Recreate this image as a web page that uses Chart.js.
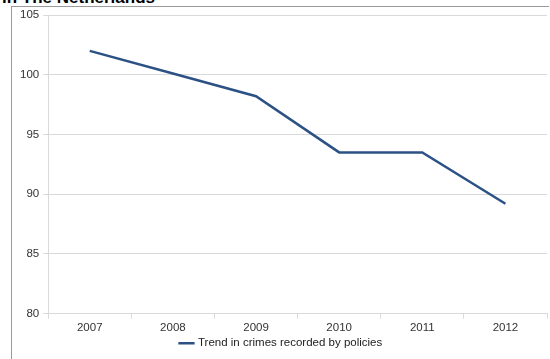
<!DOCTYPE html>
<html>
<head>
<meta charset="utf-8">
<script src="https://cdn.jsdelivr.net/npm/chart.js@4/dist/chart.umd.min.js"></script>
<style>
  body { margin: 0; background: #fff; }
  #wrap { position: relative; width: 550px; height: 359px; overflow: hidden; }
  #title { position: absolute; left: 2px; top: -12px; font: bold 17px "Liberation Sans", Arial, sans-serif; color: #000; white-space: nowrap; }
  #frame { position: absolute; left: 11px; top: 6px; width: 537px; height: 353px; border-left: 1px solid #9a9a9a; border-top: 1px solid #9a9a9a; }
  #frame canvas { position: absolute; left: 0; top: -3px; }
</style>
</head>
<body>
<div id="wrap">
  <div id="title">in The Netherlands</div>
  <div id="frame"><canvas id="chart" width="538" height="357"></canvas></div>
</div>
<script>
'use strict';

var years = ['2007', '2008', '2009', '2010', '2011', '2012'];
var crimes = [102.0, 100.1, 98.2, 93.5, 93.5, 89.2];
var seriesName = 'Trend in crimes recorded by policies';

Chart.defaults.font.family = '"Liberation Sans", Arial, sans-serif';
Chart.defaults.font.size = 11.5;
Chart.defaults.color = '#333';

drawLine();

function drawLine() {
    var ctx = document.getElementById('chart').getContext('2d');
    new Chart(ctx, {
        type: 'line',
        data: {
            labels: years,
            datasets: [{
                label: seriesName,
                data: crimes,
                borderColor: '#2c5285',
                backgroundColor: '#2c5285',
                borderWidth: 2.5,
                pointRadius: 0,
                tension: 0
            }]
        },
        options: {
            responsive: false,
            animation: false,
            layout: { padding: { left: 4, right: 3, top: 11, bottom: 2 } },
            plugins: {
                legend: {
                    position: 'bottom',
                    labels: { usePointStyle: true, pointStyle: 'line', boxWidth: 22, padding: 1, color: '#222' }
                },
                tooltip: { enabled: false }
            },
            scales: {
                x: {
                    offset: true,
                    grid: { offset: true, drawOnChartArea: false, tickLength: 5, color: '#d9d9d9' },
                    border: { color: '#d9d9d9' },
                    ticks: { padding: 2 }
                },
                y: {
                    min: 80,
                    max: 105,
                    ticks: { stepSize: 5, padding: 4 },
                    grid: { tickLength: 5, color: '#d9d9d9' },
                    border: { color: '#d9d9d9' }
                }
            }
        }
    });
}
</script>
</body>
</html>
